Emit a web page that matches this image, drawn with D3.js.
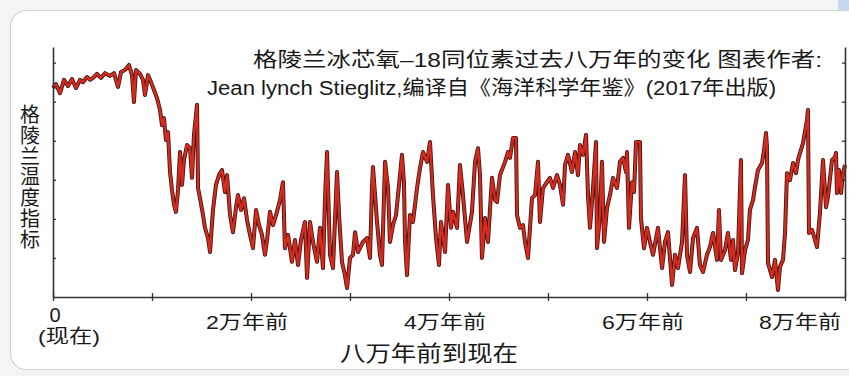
<!DOCTYPE html>
<html><head><meta charset="utf-8">
<script src="https://cdn.jsdelivr.net/npm/d3@7"></script>
<style>
html,body{margin:0;padding:0;background:#f4f4f4;}
svg{display:block;}
</style></head>
<body>
<svg id="chart" width="849" height="376"></svg>
<script>
// thousand years ago
const kaAgo = [0,0.3,0.71,1.11,1.52,1.92,2.32,2.73,3.03,3.43,3.74,4.04,4.44,4.85,5.25,5.76,6.16,6.57,6.87,7.27,7.68,7.98,8.18,8.38,8.79,9.09,9.29,9.6,9.9,10.2,10.51,10.81,11.01,11.21,11.41,11.62,11.82,12.02,12.22,12.42,12.63,12.83,13.03,13.23,13.54,13.84,14.04,14.24,14.55,14.65,14.85,15.15,15.35,15.66,15.86,16.16,16.46,16.77,17.07,17.37,17.58,17.88,18.18,18.48,18.69,18.99,19.29,19.6,19.9,20.2,20.51,20.81,21.11,21.41,21.62,21.92,22.22,22.53,22.93,23.23,23.43,23.74,24.14,24.44,24.75,25.05,25.45,25.66,25.96,26.26,26.67,26.97,27.27,27.47,27.68,27.98,28.28,28.69,28.89,29.19,29.49,29.7,30,30.3,30.51,30.81,31.31,31.72,32.02,32.22,32.32,32.73,33.03,33.23,33.54,33.84,34.04,34.34,34.65,34.85,35.05,35.25,35.45,35.56,35.76,36.06,36.36,36.77,37.07,37.37,37.78,38.08,38.38,38.69,38.99,39.19,39.6,39.9,40.2,40.4,40.81,41.11,41.41,41.82,42.32,42.63,42.93,43.13,43.33,43.64,43.94,44.34,44.65,44.85,45.15,45.66,45.96,46.16,46.46,46.77,46.87,47.17,47.47,47.68,47.98,48.38,48.69,48.99,49.19,49.49,49.9,50.2,50.51,50.91,51.21,51.52,51.72,52.02,52.42,52.73,53.03,53.23,53.54,53.84,54.04,54.24,54.55,54.85,54.95,55.25,55.45,55.66,55.96,56.26,56.57,56.97,57.27,57.58,57.88,57.98,58.18,58.48,58.69,58.89,59.29,59.39,59.7,60,60.3,60.61,61.11,61.52,61.82,62.12,62.53,62.83,63.13,63.54,63.84,64.04,64.34,64.65,65.05,65.35,65.66,66.06,66.36,66.67,67.07,67.27,67.47,67.88,68.18,68.48,68.69,68.89,69.19,69.49,69.6,69.9,70.2,70.4,70.71,70.91,71.21,71.62,71.82,72.02,72.12,72.22,72.63,72.93,73.23,73.43,73.74,73.94,74.14,74.44,74.75,75.05,75.25,75.76,76.16,76.26,76.36,76.67,76.97,77.17,77.47,77.78,78.08,78.28,78.69,78.99,79.09,79.19,79.39,79.6,79.8,80];
const tempIndex = [5.35,5.45,5.22,5.56,5.4,5.58,5.35,5.56,5.5,5.63,5.56,5.61,5.71,5.61,5.73,5.66,5.73,5.38,5.76,5.81,5.94,5.68,4.99,5.81,5.71,5.56,5.17,5.68,5.5,5.3,5.09,4.79,4.4,4.58,4.02,4.22,3.2,2.74,2.36,2.18,2.74,3.71,2.87,3.51,3.89,3.81,3.05,4.15,4.92,2.79,2.53,2.1,1.77,1.51,1.15,2.23,2.87,3.12,3.25,2.69,3.12,2.1,1.66,2.28,2.61,2.23,2.53,1.97,1.59,1.25,2.23,1.84,1.59,1.08,1.46,2.18,1.84,2.1,2.48,2.94,1.25,1.59,0.9,1.46,0.82,1.46,1.92,0.49,1.92,1.41,0.9,1.77,0.74,2.48,3.71,1.08,0.74,3.2,2.1,0.9,0.56,0.23,1,1.08,1.66,1.15,1.41,1.51,1,2.79,3.33,1.92,1.08,0.82,3.46,2.79,1.41,1.84,2.1,2.61,3.12,3.64,2.94,1.41,0.56,2.1,1.92,2.79,3.3,3.71,3.46,3.97,2.61,1.51,0.82,1.92,1.15,2.87,1.77,2.18,1.77,3.38,2.61,1.41,2.18,3.46,3.81,3.12,1,2.02,1.41,3.05,2.48,2.43,3.12,3.46,3.71,3.56,4.07,4.07,2.1,1.77,1.84,1.41,1,2.53,2.61,3.46,1.92,2.79,2.94,3.05,2.79,3.12,2.87,2.36,3.38,3.64,3.2,3.71,3.12,3.89,3.64,4.15,2.61,1.77,2.79,3.97,1.25,2.1,3.46,1.41,2.28,2.61,3.05,2.79,3.46,3.56,3.2,3.71,1.77,2.94,2.69,3.97,3.97,2.02,1.25,1.77,1.41,1.08,1.77,0.74,1.41,1.66,0.31,1.08,0.74,1.41,3.12,1.08,0.64,1.51,1.77,0.82,0.64,1.08,1.28,1.64,0.95,2.23,0.95,1.2,1.64,0.95,1.46,0.69,1.13,3.51,0.61,1.2,1.46,2.23,2.48,2.82,3.25,3.43,3.76,4.2,3.84,0.87,0.51,0.95,0.18,0.77,0.95,1.64,3.17,2.99,3.43,3.17,3.51,3.94,4.53,4.79,1.64,1.72,1.46,1.28,2.15,3.51,2.3,2.56,3.51,3.58,3.69,2.66,3.25,2.66,3.17,3.38];
const xTickValues = [0,10,20,30,40,50,60,70,80];
const xTickLabels = {0:"0",20:"2万年前",40:"4万年前",60:"6万年前",80:"8万年前"};
const yTickValues = [1,2,3,4,5,6];
const titleLine1 = "格陵兰冰芯氧–18同位素过去八万年的变化 图表作者:";
const titleLine2 = "Jean lynch Stieglitz,编译自《海洋科学年鉴》(2017年出版)";
const yAxisTitle = "格陵兰温度指标";
const xAxisTitle = "八万年前到现在";
const nowLabel = "(现在)";

const FONT = "'Liberation Sans','Noto Sans CJK SC',sans-serif";
const svg = d3.select("#chart");

// card background
svg.append("rect").attr("x",838).attr("y",0).attr("width",11).attr("height",22).attr("fill","#c8d9ef");
svg.append("rect").attr("x",10.5).attr("y",10.5).attr("width",870).attr("height",359)
  .attr("rx",16).attr("fill","#ffffff").attr("stroke","#d2d2d2").attr("stroke-width",1.2);

const x = d3.scaleLinear().domain([0,80]).range([53,845]);
const y = d3.scaleLinear().domain([0,6.4]).range([297,47]);

const data = kaAgo.map((k,i)=>({k, v: tempIndex[i]}));
const line = d3.line().x(d=>x(d.k)).y(d=>y(d.v)).curve(d3.curveLinear);

svg.append("path").datum(data).attr("d",line).attr("fill","none")
  .attr("stroke","#3a1612").attr("stroke-width",4).attr("stroke-linejoin","round");
svg.append("path").datum(data).attr("d",line).attr("fill","none")
  .attr("stroke","#d62a1f").attr("stroke-width",2.4).attr("stroke-linejoin","round");

// axes
const axisColor = "#333";
const gx = svg.append("g").attr("transform",`translate(0,${y(0)})`)
  .call(d3.axisBottom(x).tickValues(xTickValues).tickSize(0).tickFormat(""));
gx.select(".domain").attr("stroke",axisColor).attr("stroke-width",1.6);
gx.selectAll(".tick").append("line").attr("y1",-4).attr("y2",4).attr("stroke",axisColor).attr("stroke-width",1.3);

const gl = svg.append("g").attr("transform",`translate(${x(0)},0)`)
  .call(d3.axisRight(y).tickValues(yTickValues).tickSize(3).tickFormat("").tickSizeOuter(0));
gl.select(".domain").attr("stroke",axisColor).attr("stroke-width",1.6);
gl.selectAll(".tick line").attr("stroke",axisColor).attr("stroke-width",1.3);

const gr = svg.append("g").attr("transform",`translate(${x(80)},0)`)
  .call(d3.axisLeft(y).tickValues(yTickValues).tickSize(3).tickFormat("").tickSizeOuter(0));
gr.select(".domain").attr("stroke",axisColor).attr("stroke-width",1.6);
gr.selectAll(".tick line").attr("stroke",axisColor).attr("stroke-width",1.3);

// x tick labels
const lblColor = "#1a1a1a";
const tickLbl = svg.append("g").attr("font-family",FONT).attr("fill",lblColor);
Object.entries(xTickLabels).forEach(([k,t])=>{
  const kv = +k;
  if (kv===0) {
    tickLbl.append("text").attr("x",x(0)+2).attr("y",322).attr("text-anchor","middle")
      .attr("font-size",20).text(t);
  } else {
    const tx = kv===80 ? x(kv)-45 : x(kv)-4;
    tickLbl.append("text").attr("x",tx).attr("y",329).attr("text-anchor","middle")
      .attr("font-size",19).attr("textLength",82).attr("lengthAdjust","spacingAndGlyphs").text(t);
  }
});
tickLbl.append("text").attr("x",69).attr("y",343).attr("text-anchor","middle")
  .attr("font-size",19).attr("textLength",62).attr("lengthAdjust","spacingAndGlyphs").text(nowLabel);

// x axis title
svg.append("text").attr("x",429).attr("y",361).attr("text-anchor","middle")
  .attr("font-family",FONT).attr("font-size",22).attr("fill",lblColor)
  .attr("textLength",178).attr("lengthAdjust","spacingAndGlyphs").text(xAxisTitle);

// y axis title (vertical)
const yt = svg.append("text").attr("font-family",FONT).attr("font-size",20).attr("fill",lblColor)
  .attr("text-anchor","middle");
yAxisTitle.split("").forEach((c,i)=>{
  yt.append("tspan").attr("x",30).attr("y",122 + i*20.8).text(c);
});

// title
svg.append("text").attr("x",253).attr("y",67).attr("font-family",FONT).attr("font-size",20)
  .attr("fill",lblColor).attr("textLength",569).attr("lengthAdjust","spacingAndGlyphs").text(titleLine1);
svg.append("text").attr("x",207).attr("y",95).attr("font-family",FONT).attr("font-size",20)
  .attr("fill",lblColor).attr("textLength",569).attr("lengthAdjust","spacingAndGlyphs").text(titleLine2);
</script>
</body></html>
